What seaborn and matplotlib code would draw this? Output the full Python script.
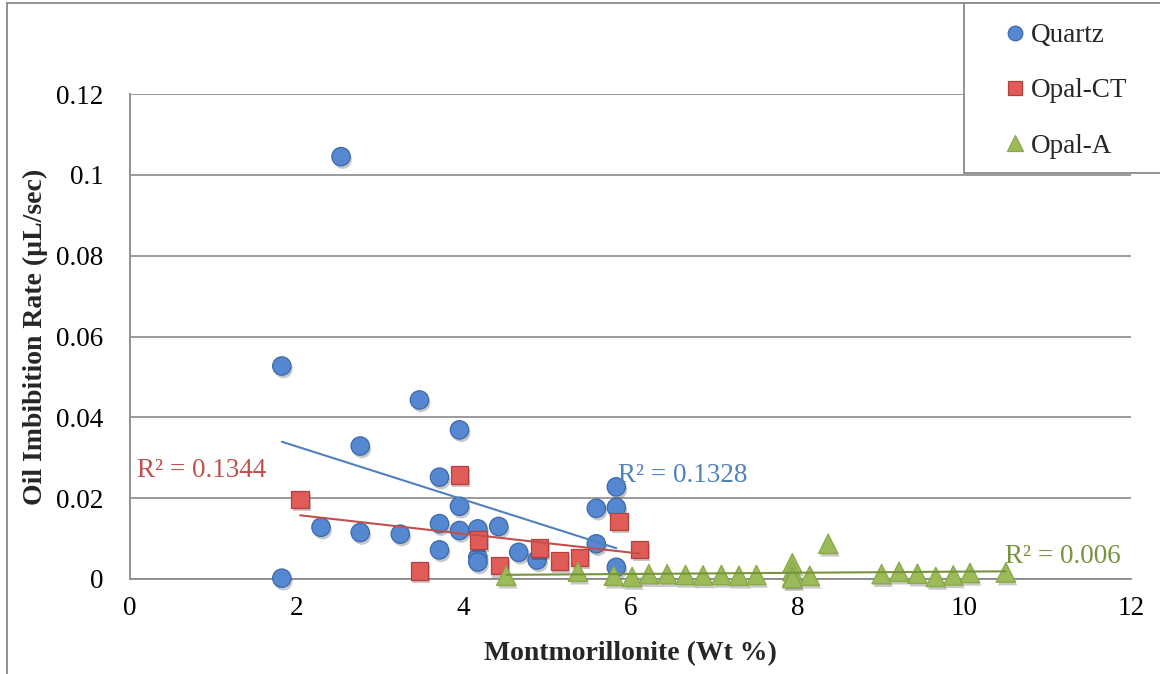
import matplotlib
matplotlib.use("Agg")
import matplotlib.pyplot as plt
import matplotlib.patheffects as pe
from matplotlib.patches import Rectangle
from matplotlib.lines import Line2D
import numpy as np
import pandas as pd
import seaborn as sns

# Montmorillonite content (Wt %) and oil imbibition rate (uL/sec) per sample group
quartz_x = [1.82, 2.53, 1.82, 2.29, 2.76, 2.76, 3.24, 3.47, 3.71, 3.71, 3.71, 3.95, 3.95, 3.95,
            4.17, 4.17, 4.17, 4.42, 4.66, 4.88, 5.59, 5.59, 5.83, 5.83, 5.83]
quartz_y = [0.0527, 0.1045, 0.0002, 0.0128, 0.0329, 0.0115, 0.0111, 0.0443, 0.0252, 0.0137, 0.0072,
            0.0369, 0.0180, 0.0120, 0.0124, 0.0054, 0.0042, 0.0130, 0.0066, 0.0047, 0.0175, 0.0087,
            0.0228, 0.0177, 0.0029]

opal_ct_x = [2.04, 3.47, 3.95, 4.18, 4.43, 4.91, 5.15, 5.39, 5.86, 6.11]
opal_ct_y = [0.0197, 0.0020, 0.0257, 0.0096, 0.0033, 0.0076, 0.0045, 0.0053, 0.0142, 0.0073]

opal_a_x = [4.51, 5.37, 5.80, 6.02, 6.22, 6.44, 6.66, 6.87, 7.09, 7.30, 7.51, 7.94, 7.94, 7.94,
            7.94, 8.15, 8.37, 9.01, 9.22, 9.44, 9.66, 9.87, 10.07, 10.50]
opal_a_y = [0.0008, 0.0018, 0.0008, 0.0005, 0.0012, 0.0012, 0.0010, 0.0009, 0.0010, 0.0008, 0.0010,
            0.0039, 0.0020, 0.0006, 0.0002, 0.0008, 0.0087, 0.0012, 0.0018, 0.0013, 0.0005, 0.0009,
            0.0015, 0.0016]

series_names = ["Quartz", "Opal-CT", "Opal-A"]
r2_labels = ["R\u00b2 = 0.1328", "R\u00b2 = 0.1344", "R\u00b2 = 0.006"]

x_ticks = [0, 2, 4, 6, 8, 10, 12]
y_ticks = [0, 0.02, 0.04, 0.06, 0.08, 0.1, 0.12]
y_tick_labels = ["0", "0.02", "0.04", "0.06", "0.08", "0.1", "0.12"]

x_title = "Montmorillonite (Wt %)"
y_title = "Oil Imbibition Rate (\u00b5L/sec)"

sns.set_theme(style="white")
plt.rcParams["font.family"] = ["Liberation Serif", "DejaVu Serif"]

W, H = 1160, 674
fig = plt.figure(figsize=(W / 100, H / 100), dpi=100)
fig.patch.set_facecolor("white")
ax = fig.add_axes([130 / W, 1 - 579 / H, 1001 / W, 485 / H])

grid_c = "#8a8a8a"
styles = [
    dict(x=quartz_x, y=quartz_y, marker="o", s=175, face="#5588d0", edge="#3a69ad",
         line="#4f81bd", label_pos=(5.85, 0.0240), leg_ms=10.5),
    dict(x=opal_ct_x, y=opal_ct_y, marker="s", s=160, face="#e05c59", edge="#b53f3c",
         line="#c0504d", label_pos=(0.085, 0.0252), leg_ms=10),
    dict(x=opal_a_x, y=opal_a_y, marker="^", s=195, face="#9bbb59", edge="#88a84a",
         line="#77933c", label_pos=(10.49, 0.0040), leg_ms=11),
]

shadow = [pe.SimplePatchShadow(offset=(1.2, -2.2), shadow_rgbFace="#000000", alpha=0.22), pe.Normal()]

handles = []
for name, st, r2 in zip(series_names, styles, r2_labels):
    df = pd.DataFrame({"x": st["x"], "y": st["y"]})
    sns.scatterplot(data=df, x="x", y="y", marker=st["marker"], s=st["s"], color=st["face"],
                    edgecolor=st["edge"], linewidth=0.9, ax=ax, zorder=3, legend=False)
    coll = ax.collections[-1]
    coll.set_path_effects(shadow)
    coll.set_clip_on(False)
    sns.regplot(data=df, x="x", y="y", scatter=False, ci=None, truncate=True, ax=ax,
                line_kws=dict(color=st["line"], lw=1.5, zorder=4))
    ax.text(st["label_pos"][0], st["label_pos"][1], r2, color=st["line"], fontsize=19.5,
            ha="left", va="baseline", zorder=5)
    handles.append(Line2D([], [], ls="none", marker=st["marker"], markersize=st["leg_ms"],
                          markerfacecolor=st["face"], markeredgecolor=st["edge"],
                          markeredgewidth=0.9))

ax.set_xlim(0, 12)
ax.set_ylim(0, 0.12)
ax.set_xticks(x_ticks)
ax.set_xticklabels([str(t) for t in x_ticks])
ax.set_yticks(y_ticks)
ax.set_yticklabels(y_tick_labels)
ax.tick_params(axis="both", length=0, labelsize=19.5, colors="black")
ax.tick_params(axis="y", pad=19)
ax.tick_params(axis="x", pad=12)

ax.yaxis.grid(True, color=grid_c, lw=1.2)
ax.xaxis.grid(False)
ax.set_axisbelow(True)
for side in ["top", "right"]:
    ax.spines[side].set_visible(False)
for side in ["left", "bottom"]:
    ax.spines[side].set_color(grid_c)
    ax.spines[side].set_linewidth(1.3)

ax.set_xlabel(x_title, fontsize=20, fontweight="bold")
ax.set_ylabel(y_title, fontsize=20, fontweight="bold")
ax.xaxis.set_label_coords(0.5, -0.128)
ax.yaxis.set_label_coords(-0.082, 0.5)

# chart frame (top and left edges) and legend box
fig.add_artist(Line2D([7 / W, 1.0], [1 - 3 / H, 1 - 3 / H], color=grid_c, lw=1.3))
fig.add_artist(Line2D([7 / W, 7 / W], [0, 1 - 3 / H], color=grid_c, lw=1.3))
fig.patches.append(Rectangle((964 / W, 1 - 173 / H), (W - 964 + 5) / W, 170 / H,
                             transform=fig.transFigure, facecolor="white",
                             edgecolor=grid_c, lw=1.3, zorder=2))

fig.legend(handles, series_names, loc="upper left", bbox_to_anchor=(1005 / W, 1 - 23 / H),
           frameon=False, fontsize=19.5, labelspacing=1.12, handlelength=0.75,
           handletextpad=0.22, borderpad=0, borderaxespad=0)

fig.savefig("out.png", dpi=100, facecolor="white")
